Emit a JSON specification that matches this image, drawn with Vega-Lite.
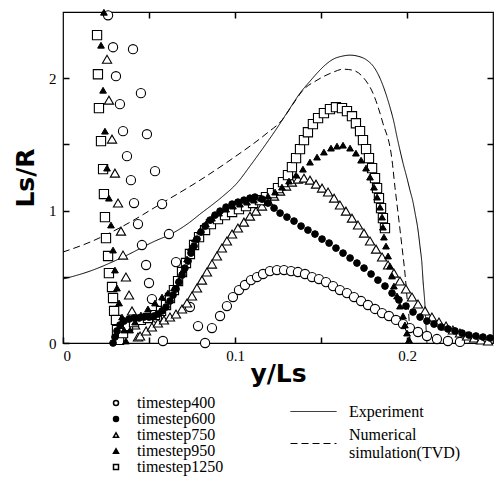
{
"$schema": "https://vega.github.io/schema/vega-lite/v6.json",
"width": 430, "height": 331,
"autosize": {"type": "none"},
"padding": {"left": 63, "top": 12, "right": 2, "bottom": 134},
"background": "white",
"config": {
  "view": {"stroke": "black", "strokeWidth": 1.2}
},
"datasets": {
"lines": [
{"s":"Experiment","x":0,"y":0.483},{"s":"Experiment","x":0.0157,"y":0.543},{"s":"Experiment","x":0.0349,"y":0.649},{"s":"Experiment","x":0.0547,"y":0.777},{"s":"Experiment","x":0.0616,"y":0.815},{"s":"Experiment","x":0.0738,"y":0.913},{"s":"Experiment","x":0.0797,"y":0.974},{"s":"Experiment","x":0.0866,"y":1.042},{"s":"Experiment","x":0.093,"y":1.109},{"s":"Experiment","x":0.1012,"y":1.208},{"s":"Experiment","x":0.1087,"y":1.336},{"s":"Experiment","x":0.1163,"y":1.472},{"s":"Experiment","x":0.1244,"y":1.623},{"s":"Experiment","x":0.132,"y":1.774},{"s":"Experiment","x":0.1378,"y":1.887},{"s":"Experiment","x":0.1436,"y":1.977},{"s":"Experiment","x":0.1477,"y":2.038},{"s":"Experiment","x":0.1523,"y":2.098},{"s":"Experiment","x":0.157,"y":2.143},{"s":"Experiment","x":0.1622,"y":2.166},{"s":"Experiment","x":0.1669,"y":2.174},{"s":"Experiment","x":0.1715,"y":2.166},{"s":"Experiment","x":0.1767,"y":2.136},{"s":"Experiment","x":0.1808,"y":2.083},{"s":"Experiment","x":0.1843,"y":2.0},{"s":"Experiment","x":0.1872,"y":1.902},{"s":"Experiment","x":0.1901,"y":1.781},{"s":"Experiment","x":0.1924,"y":1.668},{"s":"Experiment","x":0.1942,"y":1.555},{"s":"Experiment","x":0.1959,"y":1.457},{"s":"Experiment","x":0.1977,"y":1.358},{"s":"Experiment","x":0.2,"y":1.245},{"s":"Experiment","x":0.2017,"y":1.155},{"s":"Experiment","x":0.2035,"y":1.064},{"s":"Experiment","x":0.2047,"y":0.981},{"s":"Experiment","x":0.2064,"y":0.853},{"s":"Experiment","x":0.2076,"y":0.725},{"s":"Experiment","x":0.2087,"y":0.596},{"s":"Experiment","x":0.2093,"y":0.475},{"s":"Experiment","x":0.2105,"y":0.272},{"s":"Experiment","x":0.211,"y":0.136},{"s":"Experiment","x":0.2116,"y":0},
{"s":"Numerical simulation(TVD)","x":0,"y":0.687},{"s":"Numerical simulation(TVD)","x":0.0157,"y":0.762},{"s":"Numerical simulation(TVD)","x":0.0349,"y":0.883},{"s":"Numerical simulation(TVD)","x":0.0576,"y":1.057},{"s":"Numerical simulation(TVD)","x":0.0797,"y":1.23},{"s":"Numerical simulation(TVD)","x":0.0988,"y":1.396},{"s":"Numerical simulation(TVD)","x":0.1186,"y":1.585},{"s":"Numerical simulation(TVD)","x":0.1273,"y":1.683},{"s":"Numerical simulation(TVD)","x":0.1337,"y":1.804},{"s":"Numerical simulation(TVD)","x":0.1395,"y":1.909},{"s":"Numerical simulation(TVD)","x":0.1477,"y":1.985},{"s":"Numerical simulation(TVD)","x":0.157,"y":2.045},{"s":"Numerical simulation(TVD)","x":0.1628,"y":2.068},{"s":"Numerical simulation(TVD)","x":0.1686,"y":2.06},{"s":"Numerical simulation(TVD)","x":0.1744,"y":2.008},{"s":"Numerical simulation(TVD)","x":0.1802,"y":1.887},{"s":"Numerical simulation(TVD)","x":0.186,"y":1.66},{"s":"Numerical simulation(TVD)","x":0.1913,"y":1.381},{"s":"Numerical simulation(TVD)","x":0.193,"y":1.177},{"s":"Numerical simulation(TVD)","x":0.1948,"y":0.981},{"s":"Numerical simulation(TVD)","x":0.1971,"y":0.725},{"s":"Numerical simulation(TVD)","x":0.1988,"y":0.528},{"s":"Numerical simulation(TVD)","x":0.2,"y":0.347},{"s":"Numerical simulation(TVD)","x":0.2012,"y":0.174},{"s":"Numerical simulation(TVD)","x":0.2017,"y":0.023}
],
"pts": [
{"t":"timestep400","x":0.0262,"y":2.475},{"t":"timestep400","x":0.0291,"y":2.234},{"t":"timestep400","x":0.0308,"y":2.015},{"t":"timestep400","x":0.0331,"y":1.804},{"t":"timestep400","x":0.0349,"y":1.6},{"t":"timestep400","x":0.0372,"y":1.411},{"t":"timestep400","x":0.0395,"y":1.23},{"t":"timestep400","x":0.0413,"y":1.057},{"t":"timestep400","x":0.0436,"y":0.898},{"t":"timestep400","x":0.0459,"y":0.74},{"t":"timestep400","x":0.0483,"y":0.589},{"t":"timestep400","x":0.05,"y":0.453},{"t":"timestep400","x":0.0517,"y":0.332},{"t":"timestep400","x":0.0547,"y":0.189},{"t":"timestep400","x":0.0581,"y":0.015},
{"t":"timestep400","x":0.0407,"y":2.219},{"t":"timestep400","x":0.0453,"y":1.887},{"t":"timestep400","x":0.0488,"y":1.577},{"t":"timestep400","x":0.0535,"y":1.298},{"t":"timestep400","x":0.0576,"y":1.049},{"t":"timestep400","x":0.0616,"y":0.823},{"t":"timestep400","x":0.0657,"y":0.611},{"t":"timestep400","x":0.0738,"y":0.272},{"t":"timestep400","x":0.0785,"y":0.128},{"t":"timestep400","x":0.0826,"y":0},
{"t":"timestep400","x":0.0866,"y":0.113},{"t":"timestep400","x":0.0913,"y":0.204},{"t":"timestep400","x":0.0953,"y":0.279},{"t":"timestep400","x":0.0988,"y":0.347},{"t":"timestep400","x":0.1023,"y":0.4},{"t":"timestep400","x":0.1058,"y":0.438},{"t":"timestep400","x":0.1093,"y":0.475},{"t":"timestep400","x":0.1128,"y":0.498},{"t":"timestep400","x":0.1163,"y":0.521},{"t":"timestep400","x":0.1203,"y":0.543},{"t":"timestep400","x":0.1244,"y":0.551},{"t":"timestep400","x":0.1285,"y":0.551},{"t":"timestep400","x":0.1326,"y":0.543},{"t":"timestep400","x":0.1366,"y":0.536},{"t":"timestep400","x":0.1407,"y":0.521},{"t":"timestep400","x":0.1448,"y":0.498},{"t":"timestep400","x":0.1488,"y":0.483},{"t":"timestep400","x":0.1529,"y":0.46},{"t":"timestep400","x":0.157,"y":0.43},{"t":"timestep400","x":0.161,"y":0.4},{"t":"timestep400","x":0.1651,"y":0.377},{"t":"timestep400","x":0.1692,"y":0.347},{"t":"timestep400","x":0.1733,"y":0.317},{"t":"timestep400","x":0.1773,"y":0.287},{"t":"timestep400","x":0.1814,"y":0.257},{"t":"timestep400","x":0.1855,"y":0.226},{"t":"timestep400","x":0.1895,"y":0.204},{"t":"timestep400","x":0.1936,"y":0.174},{"t":"timestep400","x":0.1977,"y":0.143},{"t":"timestep400","x":0.2017,"y":0.113},{"t":"timestep400","x":0.2064,"y":0.083},{"t":"timestep400","x":0.2116,"y":0.053},{"t":"timestep400","x":0.2174,"y":0.03},{"t":"timestep400","x":0.2238,"y":0.015},{"t":"timestep400","x":0.2308,"y":0.008},
{"t":"timestep600","x":0.0291,"y":0},{"t":"timestep600","x":0.0302,"y":0.045},{"t":"timestep600","x":0.0314,"y":0.091},{"t":"timestep600","x":0.0331,"y":0.136},{"t":"timestep600","x":0.0355,"y":0.166},{"t":"timestep600","x":0.0384,"y":0.181},{"t":"timestep600","x":0.0413,"y":0.189},{"t":"timestep600","x":0.0442,"y":0.189},{"t":"timestep600","x":0.0471,"y":0.196},{"t":"timestep600","x":0.05,"y":0.196},{"t":"timestep600","x":0.0529,"y":0.204},{"t":"timestep600","x":0.0552,"y":0.219},{"t":"timestep600","x":0.0576,"y":0.242},{"t":"timestep600","x":0.0599,"y":0.272},{"t":"timestep600","x":0.0622,"y":0.317},{"t":"timestep600","x":0.064,"y":0.362},{"t":"timestep600","x":0.0657,"y":0.408},{"t":"timestep600","x":0.0674,"y":0.46},{"t":"timestep600","x":0.0692,"y":0.513},{"t":"timestep600","x":0.0709,"y":0.566},{"t":"timestep600","x":0.0727,"y":0.619},{"t":"timestep600","x":0.0744,"y":0.679},{"t":"timestep600","x":0.0762,"y":0.732},{"t":"timestep600","x":0.0779,"y":0.785},{"t":"timestep600","x":0.0802,"y":0.838},{"t":"timestep600","x":0.0826,"y":0.883},{"t":"timestep600","x":0.0855,"y":0.928},{"t":"timestep600","x":0.0884,"y":0.966},{"t":"timestep600","x":0.0913,"y":0.996},{"t":"timestep600","x":0.0948,"y":1.026},{"t":"timestep600","x":0.0983,"y":1.049},{"t":"timestep600","x":0.1017,"y":1.064},{"t":"timestep600","x":0.1052,"y":1.079},{"t":"timestep600","x":0.1087,"y":1.094},{"t":"timestep600","x":0.1116,"y":1.102},{"t":"timestep600","x":0.1157,"y":1.087},{"t":"timestep600","x":0.1192,"y":1.057},{"t":"timestep600","x":0.1227,"y":1.019},
{"t":"timestep600","x":0.1262,"y":0.981},{"t":"timestep600","x":0.1302,"y":0.951},{"t":"timestep600","x":0.1343,"y":0.921},{"t":"timestep600","x":0.1384,"y":0.883},{"t":"timestep600","x":0.1424,"y":0.853},{"t":"timestep600","x":0.1465,"y":0.823},{"t":"timestep600","x":0.1506,"y":0.785},{"t":"timestep600","x":0.1547,"y":0.755},{"t":"timestep600","x":0.1587,"y":0.717},{"t":"timestep600","x":0.1628,"y":0.679},{"t":"timestep600","x":0.1669,"y":0.642},{"t":"timestep600","x":0.1709,"y":0.604},{"t":"timestep600","x":0.175,"y":0.566},{"t":"timestep600","x":0.1791,"y":0.521},{"t":"timestep600","x":0.1831,"y":0.475},{"t":"timestep600","x":0.1872,"y":0.43},{"t":"timestep600","x":0.1913,"y":0.377},{"t":"timestep600","x":0.1953,"y":0.325},{"t":"timestep600","x":0.1994,"y":0.279},{"t":"timestep600","x":0.2035,"y":0.234},{"t":"timestep600","x":0.2076,"y":0.196},{"t":"timestep600","x":0.2116,"y":0.166},{"t":"timestep600","x":0.2157,"y":0.143},{"t":"timestep600","x":0.2198,"y":0.121},{"t":"timestep600","x":0.2238,"y":0.106},{"t":"timestep600","x":0.2279,"y":0.091},{"t":"timestep600","x":0.232,"y":0.075},{"t":"timestep600","x":0.236,"y":0.06},{"t":"timestep600","x":0.2401,"y":0.053},{"t":"timestep600","x":0.2442,"y":0.045},{"t":"timestep600","x":0.2483,"y":0.038},
{"t":"timestep750","x":0.0256,"y":2.143},{"t":"timestep750","x":0.0267,"y":1.834},{"t":"timestep750","x":0.0285,"y":1.54},{"t":"timestep750","x":0.0302,"y":1.283},{"t":"timestep750","x":0.032,"y":1.057},{"t":"timestep750","x":0.0337,"y":0.845},{"t":"timestep750","x":0.0349,"y":0.664},{"t":"timestep750","x":0.0366,"y":0.498},{"t":"timestep750","x":0.0384,"y":0.362},{"t":"timestep750","x":0.0401,"y":0.242},{"t":"timestep750","x":0.0419,"y":0.136},{"t":"timestep750","x":0.0436,"y":0.045},
{"t":"timestep750","x":0.0448,"y":0.053},{"t":"timestep750","x":0.0483,"y":0.091},{"t":"timestep750","x":0.0517,"y":0.121},{"t":"timestep750","x":0.0552,"y":0.151},{"t":"timestep750","x":0.0587,"y":0.174},{"t":"timestep750","x":0.0622,"y":0.196},{"t":"timestep750","x":0.0657,"y":0.219},{"t":"timestep750","x":0.0692,"y":0.257},{"t":"timestep750","x":0.0721,"y":0.302},{"t":"timestep750","x":0.075,"y":0.355},{"t":"timestep750","x":0.0779,"y":0.415},{"t":"timestep750","x":0.0808,"y":0.475},{"t":"timestep750","x":0.0837,"y":0.536},{"t":"timestep750","x":0.0866,"y":0.596},{"t":"timestep750","x":0.0895,"y":0.657},{"t":"timestep750","x":0.0924,"y":0.717},{"t":"timestep750","x":0.0953,"y":0.77},{"t":"timestep750","x":0.0983,"y":0.823},{"t":"timestep750","x":0.1017,"y":0.868},{"t":"timestep750","x":0.1052,"y":0.913},{"t":"timestep750","x":0.1087,"y":0.958},{"t":"timestep750","x":0.1122,"y":0.996},{"t":"timestep750","x":0.1157,"y":1.034},{"t":"timestep750","x":0.1192,"y":1.072},{"t":"timestep750","x":0.1227,"y":1.109},{"t":"timestep750","x":0.1262,"y":1.147},{"t":"timestep750","x":0.1297,"y":1.185},{"t":"timestep750","x":0.1331,"y":1.215},{"t":"timestep750","x":0.1366,"y":1.238},{"t":"timestep750","x":0.1401,"y":1.245},{"t":"timestep750","x":0.1436,"y":1.23},{"t":"timestep750","x":0.1471,"y":1.2},{"t":"timestep750","x":0.1506,"y":1.17},{"t":"timestep750","x":0.1541,"y":1.14},{"t":"timestep750","x":0.1576,"y":1.094},{"t":"timestep750","x":0.161,"y":1.042},{"t":"timestep750","x":0.1645,"y":0.996},{"t":"timestep750","x":0.168,"y":0.943},{"t":"timestep750","x":0.1715,"y":0.891},{"t":"timestep750","x":0.175,"y":0.83},{"t":"timestep750","x":0.1785,"y":0.77},{"t":"timestep750","x":0.182,"y":0.709},{"t":"timestep750","x":0.1855,"y":0.649},{"t":"timestep750","x":0.189,"y":0.589},{"t":"timestep750","x":0.1924,"y":0.528},{"t":"timestep750","x":0.1959,"y":0.468},{"t":"timestep750","x":0.1994,"y":0.408},{"t":"timestep750","x":0.2029,"y":0.347},{"t":"timestep750","x":0.2064,"y":0.294},{"t":"timestep750","x":0.2105,"y":0.242},{"t":"timestep750","x":0.2145,"y":0.196},{"t":"timestep750","x":0.2186,"y":0.158},{"t":"timestep750","x":0.2227,"y":0.128},{"t":"timestep750","x":0.2267,"y":0.098},{"t":"timestep750","x":0.2308,"y":0.075},{"t":"timestep750","x":0.2349,"y":0.053},{"t":"timestep750","x":0.239,"y":0.038},{"t":"timestep750","x":0.243,"y":0.023},{"t":"timestep750","x":0.2471,"y":0.015},
{"t":"timestep950","x":0.0238,"y":2.498},{"t":"timestep950","x":0.0221,"y":2.249},{"t":"timestep950","x":0.0233,"y":1.909},{"t":"timestep950","x":0.0244,"y":1.6},{"t":"timestep950","x":0.0256,"y":1.321},{"t":"timestep950","x":0.0267,"y":1.094},{"t":"timestep950","x":0.0279,"y":0.891},{"t":"timestep950","x":0.0291,"y":0.702},{"t":"timestep950","x":0.0302,"y":0.551},{"t":"timestep950","x":0.0314,"y":0.415},{"t":"timestep950","x":0.0326,"y":0.302},{"t":"timestep950","x":0.0343,"y":0.196},{"t":"timestep950","x":0.0355,"y":0.098},{"t":"timestep950","x":0.0366,"y":0.015},
{"t":"timestep950","x":0.039,"y":0.098},{"t":"timestep950","x":0.0419,"y":0.158},{"t":"timestep950","x":0.0453,"y":0.211},{"t":"timestep950","x":0.0494,"y":0.257},{"t":"timestep950","x":0.0535,"y":0.302},{"t":"timestep950","x":0.0576,"y":0.347},{"t":"timestep950","x":0.061,"y":0.377},{"t":"timestep950","x":0.0645,"y":0.415},{"t":"timestep950","x":0.0674,"y":0.475},{"t":"timestep950","x":0.0698,"y":0.551},{"t":"timestep950","x":0.0721,"y":0.634},{"t":"timestep950","x":0.0744,"y":0.717},{"t":"timestep950","x":0.0767,"y":0.785},{"t":"timestep950","x":0.0797,"y":0.845},{"t":"timestep950","x":0.0831,"y":0.898},{"t":"timestep950","x":0.0866,"y":0.943},{"t":"timestep950","x":0.0907,"y":0.981},{"t":"timestep950","x":0.0948,"y":1.011},{"t":"timestep950","x":0.0988,"y":1.034},{"t":"timestep950","x":0.1029,"y":1.049},{"t":"timestep950","x":0.107,"y":1.064},{"t":"timestep950","x":0.111,"y":1.079},{"t":"timestep950","x":0.1151,"y":1.094},{"t":"timestep950","x":0.1192,"y":1.109},{"t":"timestep950","x":0.1233,"y":1.14},{"t":"timestep950","x":0.1273,"y":1.177},{"t":"timestep950","x":0.1314,"y":1.223},{"t":"timestep950","x":0.1355,"y":1.268},{"t":"timestep950","x":0.1395,"y":1.313},{"t":"timestep950","x":0.1436,"y":1.366},{"t":"timestep950","x":0.1477,"y":1.404},{"t":"timestep950","x":0.1517,"y":1.442},{"t":"timestep950","x":0.1558,"y":1.472},{"t":"timestep950","x":0.1593,"y":1.487},{"t":"timestep950","x":0.1628,"y":1.494},{"t":"timestep950","x":0.1669,"y":1.472},{"t":"timestep950","x":0.1703,"y":1.434},{"t":"timestep950","x":0.1733,"y":1.381},{"t":"timestep950","x":0.1762,"y":1.321},{"t":"timestep950","x":0.1785,"y":1.253},{"t":"timestep950","x":0.1808,"y":1.177},{"t":"timestep950","x":0.1826,"y":1.102},{"t":"timestep950","x":0.1843,"y":1.026},{"t":"timestep950","x":0.1855,"y":0.951},{"t":"timestep950","x":0.186,"y":0.875},
{"t":"timestep950","x":0.1866,"y":0.8},{"t":"timestep950","x":0.1878,"y":0.732},{"t":"timestep950","x":0.189,"y":0.657},{"t":"timestep950","x":0.1901,"y":0.581},{"t":"timestep950","x":0.1913,"y":0.506},{"t":"timestep950","x":0.1924,"y":0.43},{"t":"timestep950","x":0.1942,"y":0.355},{"t":"timestep950","x":0.1959,"y":0.279},{"t":"timestep950","x":0.1977,"y":0.204},{"t":"timestep950","x":0.1988,"y":0.136},{"t":"timestep950","x":0.2,"y":0.075},{"t":"timestep950","x":0.2012,"y":0.023},
{"t":"timestep1250","x":0.0198,"y":2.325},{"t":"timestep1250","x":0.0203,"y":2.03},{"t":"timestep1250","x":0.0209,"y":1.774},{"t":"timestep1250","x":0.0221,"y":1.525},{"t":"timestep1250","x":0.0233,"y":1.313},{"t":"timestep1250","x":0.0238,"y":1.125},{"t":"timestep1250","x":0.0244,"y":0.951},{"t":"timestep1250","x":0.025,"y":0.792},{"t":"timestep1250","x":0.0262,"y":0.657},{"t":"timestep1250","x":0.0267,"y":0.528},{"t":"timestep1250","x":0.0285,"y":0.423},{"t":"timestep1250","x":0.0291,"y":0.34},{"t":"timestep1250","x":0.0297,"y":0.242},{"t":"timestep1250","x":0.0308,"y":0.174},{"t":"timestep1250","x":0.0314,"y":0.098},{"t":"timestep1250","x":0.0326,"y":0.023},
{"t":"timestep1250","x":0.0349,"y":0.075},{"t":"timestep1250","x":0.0378,"y":0.128},{"t":"timestep1250","x":0.0413,"y":0.158},{"t":"timestep1250","x":0.0453,"y":0.174},{"t":"timestep1250","x":0.0494,"y":0.189},{"t":"timestep1250","x":0.0535,"y":0.211},{"t":"timestep1250","x":0.057,"y":0.242},{"t":"timestep1250","x":0.0599,"y":0.287},{"t":"timestep1250","x":0.0622,"y":0.34},{"t":"timestep1250","x":0.0645,"y":0.4},{"t":"timestep1250","x":0.0669,"y":0.468},{"t":"timestep1250","x":0.0692,"y":0.536},{"t":"timestep1250","x":0.0715,"y":0.604},{"t":"timestep1250","x":0.0738,"y":0.672},{"t":"timestep1250","x":0.0762,"y":0.74},{"t":"timestep1250","x":0.0791,"y":0.8},{"t":"timestep1250","x":0.0826,"y":0.853},{"t":"timestep1250","x":0.086,"y":0.898},{"t":"timestep1250","x":0.0901,"y":0.936},{"t":"timestep1250","x":0.0942,"y":0.966},{"t":"timestep1250","x":0.0983,"y":0.989},{"t":"timestep1250","x":0.1023,"y":1.011},{"t":"timestep1250","x":0.1064,"y":1.034},{"t":"timestep1250","x":0.1105,"y":1.057},{"t":"timestep1250","x":0.1145,"y":1.079},{"t":"timestep1250","x":0.118,"y":1.102},{"t":"timestep1250","x":0.1215,"y":1.132},{"t":"timestep1250","x":0.125,"y":1.17},{"t":"timestep1250","x":0.1279,"y":1.215},{"t":"timestep1250","x":0.1308,"y":1.268},{"t":"timestep1250","x":0.1331,"y":1.328},{"t":"timestep1250","x":0.1355,"y":1.396},{"t":"timestep1250","x":0.1378,"y":1.464},{"t":"timestep1250","x":0.1401,"y":1.532},{"t":"timestep1250","x":0.1424,"y":1.592},{"t":"timestep1250","x":0.1453,"y":1.653},{"t":"timestep1250","x":0.1483,"y":1.698},{"t":"timestep1250","x":0.1517,"y":1.736},{"t":"timestep1250","x":0.1552,"y":1.766},{"t":"timestep1250","x":0.1587,"y":1.781},{"t":"timestep1250","x":0.1622,"y":1.774},{"t":"timestep1250","x":0.1651,"y":1.751},{"t":"timestep1250","x":0.168,"y":1.713},{"t":"timestep1250","x":0.1703,"y":1.66},{"t":"timestep1250","x":0.1727,"y":1.6},{"t":"timestep1250","x":0.1744,"y":1.532},{"t":"timestep1250","x":0.1762,"y":1.464},{"t":"timestep1250","x":0.1779,"y":1.396},{"t":"timestep1250","x":0.1797,"y":1.321},{"t":"timestep1250","x":0.1814,"y":1.245},{"t":"timestep1250","x":0.1826,"y":1.17},{"t":"timestep1250","x":0.1837,"y":1.094},{"t":"timestep1250","x":0.1849,"y":1.019},{"t":"timestep1250","x":0.186,"y":0.943},{"t":"timestep1250","x":0.1872,"y":0.868}
]
},
"layer": [
{
  "data": {"name": "lines"},
  "mark": {"type": "line", "color": "black", "strokeWidth": 1, "interpolate": "monotone"},
  "encoding": {
    "x": {"field": "x", "type": "quantitative", "scale": {"domain": [0, 0.25], "nice": false, "zero": false},
          "axis": {"orient": "top", "values": [0.05, 0.1, 0.15, 0.2], "labels": false, "tickSize": 6, "offset": -6, "tickColor": "black", "tickWidth": 1.5, "domain": false, "grid": false, "zindex": 1, "title": null}},
    "y": {"field": "y", "type": "quantitative", "scale": {"domain": [0, 2.5], "nice": false},
          "axis": {"orient": "right", "values": [0.5, 1, 1.5, 2], "labels": false, "tickSize": 6, "offset": -6, "tickColor": "black", "tickWidth": 1.5, "domain": false, "grid": false, "zindex": 1, "title": null}},
    "strokeDash": {"field": "s", "type": "nominal",
      "scale": {"domain": ["Experiment", "Numerical simulation(TVD)"], "range": [[1, 0], [7, 4]]},
      "legend": {"title": null, "orient": "none", "legendX": 227, "legendY": 376, "symbolType": "stroke", "symbolSize": 2116, "symbolStrokeColor": "black", "symbolStrokeWidth": 1, "labelFont": "Liberation Serif", "labelFontSize": 16, "labelColor": "black", "labelOffset": 12, "rowPadding": -4, "padding": 0, "labelLimit": 0,
        "labelExpr": "datum.label == 'Experiment' ? datum.label : ['Numerical', 'simulation(TVD)']",
        "encode": {"labels": {"update": {"dy": {"signal": "datum.value == 'Experiment' ? 0 : -9"}}}}}}
  }
},
{
  "data": {"name": "pts"},
  "transform": [{"filter": {"field": "t", "oneOf": ["timestep400", "timestep750", "timestep1250"]}}],
  "mark": {"type": "point", "size": 85, "stroke": "black", "strokeWidth": 1.1, "opacity": 1, "filled": true},
  "encoding": {
    "x": {"field": "x", "type": "quantitative", "scale": {"domain": [0, 0.25], "nice": false, "zero": false},
          "axis": {"orient": "bottom", "values": [0, 0.05, 0.1, 0.15, 0.2], "format": ".2~f", "labelExpr": "datum.value == 0 || datum.value == 0.1 || datum.value == 0.2 ? datum.label : ''", "tickSize": 6, "offset": -6, "tickColor": "black", "tickWidth": 1.5, "domain": false, "grid": false, "zindex": 1, "labelPadding": 5,
                   "labelFont": "Liberation Serif", "labelFontSize": 15, "labelColor": "black",
                   "title": "y/Ls", "titleFont": "DejaVu Sans", "titleFontSize": 25, "titleFontWeight": "bold", "titleColor": "black", "titlePadding": -2}},
    "y": {"field": "y", "type": "quantitative", "scale": {"domain": [0, 2.5], "nice": false},
          "axis": {"orient": "left", "values": [0, 0.5, 1, 1.5, 2], "format": ".1~f", "labelExpr": "datum.value % 1 == 0 ? datum.label : ''", "tickSize": 6, "offset": -6, "tickColor": "black", "tickWidth": 1.5, "domain": false, "grid": false, "zindex": 1, "labelPadding": 7,
                   "labelFont": "Liberation Serif", "labelFontSize": 15, "labelColor": "black",
                   "title": "Ls/R", "titleFont": "DejaVu Sans", "titleFontSize": 25, "titleFontWeight": "bold", "titleColor": "black", "titlePadding": 10}},
    "shape": {"field": "t", "type": "nominal",
      "scale": {"domain": ["timestep400", "timestep600", "timestep750", "timestep950", "timestep1250"], "range": ["circle", "circle", "triangle-up", "triangle-up", "square"]},
      "legend": {"title": null, "orient": "none", "legendX": 45, "legendY": 383, "symbolSize": 25, "labelFont": "Liberation Serif", "labelFontSize": 16, "labelColor": "black", "labelOffset": 13, "rowPadding": 0, "padding": 0,
        "encode": {"symbols": {"update": {"stroke": {"value": "black"}, "strokeWidth": {"value": 1}}}}}},
    "fill": {"field": "t", "type": "nominal",
      "scale": {"domain": ["timestep400", "timestep600", "timestep750", "timestep950", "timestep1250"], "range": ["white", "black", "white", "black", "white"]},
      "legend": {"title": null, "orient": "none", "legendX": 45, "legendY": 383, "symbolSize": 25, "labelFont": "Liberation Serif", "labelFontSize": 16, "labelColor": "black", "labelOffset": 13, "rowPadding": 0, "padding": 0,
        "encode": {"symbols": {"update": {"stroke": {"value": "black"}, "strokeWidth": {"value": 1}}}}}}
  }
},
{
  "data": {"name": "pts"},
  "transform": [{"filter": {"field": "t", "oneOf": ["timestep600", "timestep950"]}}],
  "mark": {"type": "point", "size": 45, "stroke": "black", "strokeWidth": 1, "opacity": 1, "filled": true},
  "encoding": {
    "x": {"field": "x", "type": "quantitative", "axis": null},
    "y": {"field": "y", "type": "quantitative", "axis": null},
    "shape": {"field": "t", "type": "nominal",
      "scale": {"domain": ["timestep400", "timestep600", "timestep750", "timestep950", "timestep1250"], "range": ["circle", "circle", "triangle-up", "triangle-up", "square"]},
      "legend": {"title": null, "orient": "none", "legendX": 45, "legendY": 383, "symbolSize": 25, "labelFont": "Liberation Serif", "labelFontSize": 16, "labelColor": "black", "labelOffset": 13, "rowPadding": 0, "padding": 0,
        "encode": {"symbols": {"update": {"stroke": {"value": "black"}, "strokeWidth": {"value": 1}}}}}},
    "fill": {"field": "t", "type": "nominal",
      "scale": {"domain": ["timestep400", "timestep600", "timestep750", "timestep950", "timestep1250"], "range": ["white", "black", "white", "black", "white"]},
      "legend": {"title": null, "orient": "none", "legendX": 45, "legendY": 383, "symbolSize": 25, "labelFont": "Liberation Serif", "labelFontSize": 16, "labelColor": "black", "labelOffset": 13, "rowPadding": 0, "padding": 0,
        "encode": {"symbols": {"update": {"stroke": {"value": "black"}, "strokeWidth": {"value": 1}}}}}}
  }
}
],
"resolve": {"axis": {"x": "independent", "y": "independent"}}
}
